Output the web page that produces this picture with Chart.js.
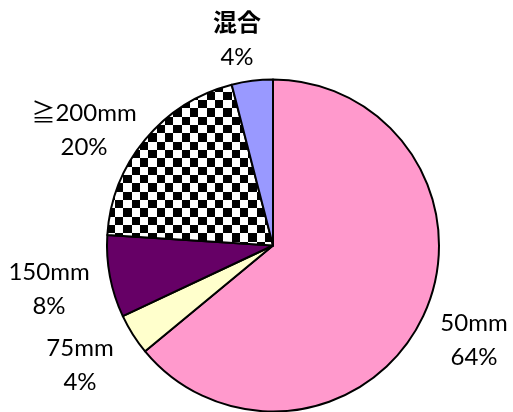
<!DOCTYPE html>
<html>
<head>
<meta charset="utf-8">
<script src="https://cdn.jsdelivr.net/npm/chart.js@4"></script>
<style>
  html, body { margin: 0; padding: 0; background: #fff; }
  #wrap { width: 513px; height: 412px; }
</style>
</head>
<body>
<div id="wrap"><canvas id="c" width="513" height="412"></canvas></div>
<script>
const categories = ['50mm', '75mm', '150mm', '≧200mm', '混合'];
const values = [64, 4, 8, 20, 4];
const percentLabels = ['64%', '4%', '8%', '20%', '4%'];

// label placement (offset from pie centre, px) - text layout only
const labelOffsets = [[201, 95], [-193, 120], [-224, 44], [-189, -115], [-36, -205]];
const labelBold = [false, false, false, false, true];

function checker() {
  const t = document.createElement('canvas');
  t.width = 50; t.height = 50;
  const g = t.getContext('2d');
  g.fillStyle = '#fff'; g.fillRect(0, 0, 50, 50);
  g.fillStyle = '#000';
  const b = [0, 8, 17, 25, 33, 42, 50];
  for (let i = 0; i < 6; i++) {
    for (let j = 0; j < 6; j++) {
      if ((i + j) % 2 === 0) g.fillRect(b[i], b[j], b[i + 1] - b[i], b[j + 1] - b[j]);
    }
  }
  const ctx = document.getElementById('c').getContext('2d');
  const p = ctx.createPattern(t, 'repeat');
  p.setTransform(new DOMMatrix([1, 0, 0, 1, 15, 0]));
  return p;
}

const colors = ['#FF99CC', '#FFFFCC', '#660066', checker(), '#9999FF'];

const labelPlugin = {
  id: 'outLabels',
  afterDatasetsDraw(chart) {
    const ctx = chart.ctx;
    const meta = chart.getDatasetMeta(0);
    ctx.save();
    ctx.fillStyle = '#000';
    ctx.textAlign = 'center';
    ctx.textBaseline = 'middle';
    meta.data.forEach((arc, i) => {
      const x = arc.x + labelOffsets[i][0];
      const y = arc.y + labelOffsets[i][1];
      ctx.font = (labelBold[i] ? 'bold ' : '') + '24px Lato, "Noto Sans CJK JP", sans-serif';
      ctx.fillText(categories[i], x, y - 17);
      ctx.font = '24px Lato, "Noto Sans CJK JP", sans-serif';
      ctx.fillText(percentLabels[i], x, y + 17);
    });
    ctx.restore();
  }
};

new Chart(document.getElementById('c'), {
  type: 'pie',
  data: {
    labels: categories,
    datasets: [{
      data: values,
      backgroundColor: colors,
      borderColor: '#000',
      borderWidth: 2,
      borderJoinStyle: 'round'
    }]
  },
  options: {
    responsive: false,
    animation: false,
    radius: 166,
    layout: { padding: { left: 33, right: 0, top: 79, bottom: 0 } },
    plugins: { legend: { display: false }, tooltip: { enabled: false } }
  },
  plugins: [labelPlugin]
});
</script>
</body>
</html>
